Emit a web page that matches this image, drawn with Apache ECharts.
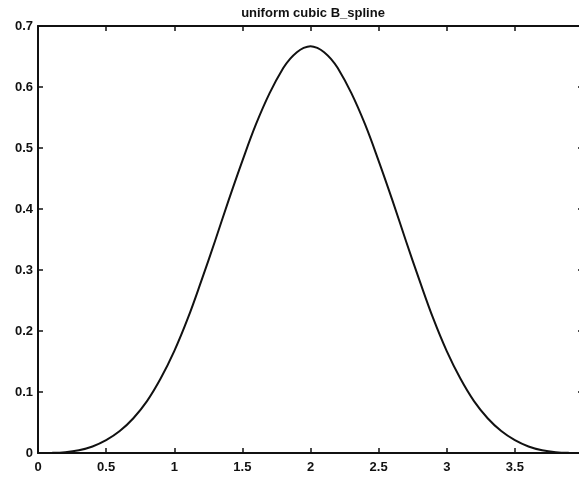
<!DOCTYPE html>
<html>
<head>
<meta charset="utf-8">
<script src="https://cdn.jsdelivr.net/npm/echarts@6/dist/echarts.min.js"></script>
<style>
  html, body { margin: 0; padding: 0; background: #fff; }
  #chart { width: 579px; height: 479px; }
</style>
</head>
<body>
<div id="chart"></div>
<script>
// values
const xValues = [0, 0.1, 0.2, 0.3, 0.4, 0.5, 0.6, 0.7, 0.8, 0.9, 1.0,
  1.1, 1.2, 1.3, 1.4, 1.5, 1.6, 1.7, 1.8, 1.85, 1.9, 1.95, 2.0,
  2.05, 2.1, 2.15, 2.2, 2.3, 2.4, 2.5, 2.6, 2.7, 2.8, 2.9, 3.0,
  3.1, 3.2, 3.3, 3.4, 3.5, 3.6, 3.7, 3.8, 3.9, 4.0]
const yValues = [0, 0.0002, 0.0013, 0.0045, 0.0107, 0.021, 0.036, 0.057, 0.085, 0.122, 0.167,
  0.221, 0.283, 0.348, 0.415, 0.479, 0.539, 0.590, 0.631, 0.646, 0.657, 0.664, 0.667,
  0.664, 0.657, 0.646, 0.631, 0.590, 0.539, 0.479, 0.415, 0.348, 0.283, 0.221, 0.167,
  0.122, 0.085, 0.057, 0.036, 0.021, 0.0107, 0.0045, 0.0013, 0.0002, 0]
const xTicks = ['0', '0.5', '1', '1.5', '2', '2.5', '3', '3.5', '4']
const yTicks = ['0', '0.1', '0.2', '0.3', '0.4', '0.5', '0.6', '0.7']
const title = 'uniform cubic B_spline'

const chart = echarts.init(document.getElementById('chart'))

const font = 'Liberation Sans, Arial, sans-serif'
const labelFont = { color: '#111', fontSize: 13, fontWeight: 'bold', fontFamily: font }
const axisLine = { show: true, onZero: false, lineStyle: { color: '#111', width: 2 } }
const tick = { show: true, inside: true, length: 5, lineStyle: { color: '#111', width: 1.5 } }

chart.setOption({
  animation: false,
  title: {
    text: title,
    left: 308,
    textAlign: 'center',
    top: 2,
    textStyle: { color: '#111', fontSize: 13, fontWeight: 'bold', fontFamily: font }
  },
  grid: { left: 38, right: -4, top: 26, bottom: 26, outerBoundsMode: 'none', containLabel: false },
  xAxis: [
    {
      type: 'value', min: 0, max: 4, interval: 0.5, position: 'bottom',
      axisLine, axisTick: tick, splitLine: { show: false },
      axisLabel: { ...labelFont, margin: 8, formatter: v => xTicks[Math.round(v / 0.5)] }
    },
    {
      type: 'value', min: 0, max: 4, interval: 0.5, position: 'top',
      axisLine, axisTick: tick, splitLine: { show: false }, axisLabel: { show: false }
    }
  ],
  yAxis: [
    {
      type: 'value', min: 0, max: 0.7, interval: 0.1, position: 'left',
      axisLine, axisTick: tick, splitLine: { show: false },
      axisLabel: { ...labelFont, margin: 5, formatter: v => yTicks[Math.round(v / 0.1)] }
    },
    {
      type: 'value', min: 0, max: 0.7, interval: 0.1, position: 'right',
      axisLine, axisTick: tick, splitLine: { show: false }, axisLabel: { show: false }
    }
  ],
  series: [
    {
      type: 'line',
      data: xValues.map((x, i) => [x, yValues[i]]),
      smooth: 0.4,
      showSymbol: false,
      lineStyle: { color: '#111', width: 2 }
    }
  ]
})
</script>
</body>
</html>
